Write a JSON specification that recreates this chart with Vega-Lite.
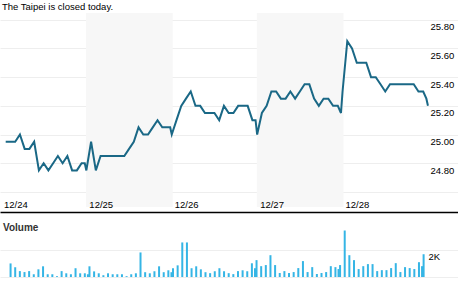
{
  "$schema": "https://vega.github.io/schema/vega-lite/v6.json",
  "padding": {"top": 2, "left": 0, "right": 0, "bottom": 0},
  "background": "white",
  "config": {"view": {"stroke": null}, "font": "Liberation Sans", "concat": {"spacing": 11}},
  "title": {"text": "The Taipei is closed today.", "anchor": "start", "fontSize": 9.5, "fontWeight": "normal", "color": "#000000", "dx": 2, "offset": 1.5, "font": "Liberation Sans"},
  "datasets": {
    "bands": [{"start": 269, "end": 543}, {"start": 809, "end": 1083}],
    "ticks": [
      {"min": 15, "price": 24.95, "vol": 990},
      {"min": 30, "price": 24.95, "vol": 710},
      {"min": 45, "price": 24.95, "vol": 430},
      {"min": 60, "price": 25.00, "vol": 360},
      {"min": 75, "price": 24.90, "vol": 430},
      {"min": 90, "price": 24.90, "vol": 200},
      {"min": 105, "price": 24.95, "vol": 560},
      {"min": 120, "price": 24.75, "vol": 780},
      {"min": 135, "price": 24.80, "vol": 200},
      {"min": 150, "price": 24.75, "vol": 200},
      {"min": 165, "price": 24.80, "vol": 60},
      {"min": 180, "price": 24.85, "vol": 430},
      {"min": 195, "price": 24.80, "vol": 270},
      {"min": 210, "price": 24.85, "vol": 200},
      {"min": 225, "price": 24.75, "vol": 640},
      {"min": 240, "price": 24.75, "vol": 270},
      {"min": 255, "price": 24.80, "vol": 270},
      {"min": 265, "price": 24.80, "vol": 200},
      {"min": 270, "price": 24.75, "vol": 780},
      {"min": 285, "price": 24.95, "vol": 410},
      {"min": 300, "price": 24.75, "vol": 270},
      {"min": 315, "price": 24.85, "vol": 130},
      {"min": 330, "price": 24.85, "vol": 270},
      {"min": 345, "price": 24.85, "vol": 200},
      {"min": 360, "price": 24.85, "vol": 200},
      {"min": 375, "price": 24.85, "vol": 200},
      {"min": 390, "price": 24.85, "vol": 60},
      {"min": 405, "price": 24.90, "vol": 200},
      {"min": 420, "price": 24.95, "vol": 270},
      {"min": 435, "price": 25.05, "vol": 1790},
      {"min": 450, "price": 25.00, "vol": 350},
      {"min": 465, "price": 25.00, "vol": 270},
      {"min": 480, "price": 25.05, "vol": 420},
      {"min": 495, "price": 25.10, "vol": 780},
      {"min": 510, "price": 25.05, "vol": 350},
      {"min": 525, "price": 25.05, "vol": 490},
      {"min": 535, "price": 25.05, "vol": 350},
      {"min": 540, "price": 25.00, "vol": 640},
      {"min": 555, "price": 25.10, "vol": 850},
      {"min": 570, "price": 25.20, "vol": 2520},
      {"min": 585, "price": 25.25, "vol": 2520},
      {"min": 600, "price": 25.30, "vol": 640},
      {"min": 615, "price": 25.20, "vol": 780},
      {"min": 630, "price": 25.20, "vol": 560},
      {"min": 645, "price": 25.15, "vol": 350},
      {"min": 660, "price": 25.15, "vol": 280},
      {"min": 675, "price": 25.15, "vol": 420},
      {"min": 690, "price": 25.10, "vol": 640},
      {"min": 705, "price": 25.20, "vol": 420},
      {"min": 720, "price": 25.15, "vol": 280},
      {"min": 735, "price": 25.15, "vol": 210},
      {"min": 750, "price": 25.20, "vol": 430},
      {"min": 765, "price": 25.20, "vol": 490},
      {"min": 780, "price": 25.20, "vol": 420},
      {"min": 795, "price": 25.10, "vol": 1000},
      {"min": 805, "price": 25.10, "vol": 640},
      {"min": 810, "price": 25.00, "vol": 1230},
      {"min": 825, "price": 25.15, "vol": 790},
      {"min": 840, "price": 25.20, "vol": 870},
      {"min": 855, "price": 25.30, "vol": 1590},
      {"min": 870, "price": 25.30, "vol": 870},
      {"min": 885, "price": 25.25, "vol": 290},
      {"min": 900, "price": 25.25, "vol": 430},
      {"min": 915, "price": 25.30, "vol": 290},
      {"min": 930, "price": 25.25, "vol": 360},
      {"min": 945, "price": 25.30, "vol": 650},
      {"min": 960, "price": 25.35, "vol": 1160},
      {"min": 975, "price": 25.35, "vol": 360},
      {"min": 990, "price": 25.25, "vol": 720},
      {"min": 1005, "price": 25.20, "vol": 220},
      {"min": 1020, "price": 25.25, "vol": 290},
      {"min": 1035, "price": 25.25, "vol": 360},
      {"min": 1050, "price": 25.20, "vol": 790},
      {"min": 1065, "price": 25.20, "vol": 720},
      {"min": 1075, "price": 25.15, "vol": 580},
      {"min": 1080, "price": 25.30, "vol": 870},
      {"min": 1095, "price": 25.65, "vol": 3390},
      {"min": 1110, "price": 25.60, "vol": 1590},
      {"min": 1125, "price": 25.50, "vol": 1230},
      {"min": 1140, "price": 25.50, "vol": 580},
      {"min": 1155, "price": 25.50, "vol": 790},
      {"min": 1170, "price": 25.40, "vol": 940},
      {"min": 1185, "price": 25.40, "vol": 940},
      {"min": 1200, "price": 25.35, "vol": 430},
      {"min": 1215, "price": 25.30, "vol": 500},
      {"min": 1230, "price": 25.35, "vol": 500},
      {"min": 1245, "price": 25.35, "vol": 650},
      {"min": 1260, "price": 25.35, "vol": 1010},
      {"min": 1275, "price": 25.35, "vol": 360},
      {"min": 1290, "price": 25.35, "vol": 720},
      {"min": 1305, "price": 25.35, "vol": 650},
      {"min": 1320, "price": 25.30, "vol": 580},
      {"min": 1335, "price": 25.30, "vol": 1080},
      {"min": 1345, "price": 25.25, "vol": 790},
      {"min": 1350, "price": 25.20, "vol": 1660}
    ]
  },
  "vconcat": [
    {
      "width": 458,
      "height": 194,
      "layer": [
        {
          "data": {"name": "bands"},
          "mark": {"type": "rect", "color": "#f7f7f7"},
          "encoding": {
            "x": {"field": "start", "type": "quantitative", "scale": {"domain": [-3, 1445], "nice": false, "zero": false},
              "axis": {"orient": "bottom", "offset": 5, "zindex": 1, "values": [0, 270, 540, 810, 1080], "labelExpr": "['12/24','12/25','12/26','12/27','12/28'][round(datum.value/270)]", "grid": false, "domain": true, "domainColor": "#000000", "domainWidth": 1.5, "ticks": false, "tickSize": 0, "labelPadding": -4.7, "labelBaseline": "alphabetic", "labelAlign": "left", "labelOffset": 2.5, "labelFontSize": 9.5, "labelFont": "Liberation Sans", "labelColor": "#000000", "labelFlush": false, "labelOverlap": false, "title": null}},
            "x2": {"field": "end"}
          }
        },
        {
          "data": {"name": "ticks"},
          "mark": {"type": "line", "color": "#1a6886", "strokeWidth": 2},
          "encoding": {
            "x": {"field": "min", "type": "quantitative",
              "axis": {"orient": "bottom", "offset": 5, "zindex": 1, "values": [0, 270, 540, 810, 1080], "labelExpr": "['12/24','12/25','12/26','12/27','12/28'][round(datum.value/270)]", "grid": false, "domain": true, "domainColor": "#000000", "domainWidth": 1.5, "ticks": false, "tickSize": 0, "labelPadding": -4.7, "labelBaseline": "alphabetic", "labelAlign": "left", "labelOffset": 2.5, "labelFontSize": 9.5, "labelFont": "Liberation Sans", "labelColor": "#000000", "labelFlush": false, "labelOverlap": false, "title": null}},
            "y": {"field": "price", "type": "quantitative", "scale": {"domain": [24.495, 25.847], "nice": false, "zero": false},
              "axis": {"orient": "right", "offset": -28, "values": [24.6, 24.8, 25.0, 25.2, 25.4, 25.6, 25.8], "format": ".2f", "labelExpr": "datum.value < 24.7 ? '' : datum.label", "grid": true, "gridColor": "#eeeeee", "gridWidth": 1, "domain": false, "ticks": false, "tickSize": 0, "labelPadding": 0, "labelAlign": "left", "labelBaseline": "top", "labelOffset": 2, "labelFontSize": 9.5, "labelFont": "Liberation Sans", "labelColor": "#000000", "labelFlush": false, "labelOverlap": false, "title": null}}
          }
        }
      ]
    },
    {
      "width": 458,
      "height": 48,
      "title": {"text": "Volume", "anchor": "start", "fontSize": 10, "fontWeight": "bold", "color": "#333333", "dx": 3, "offset": -4, "font": "Liberation Sans"},
      "data": {"name": "ticks"},
      "mark": {"type": "bar", "width": 2, "color": "#35b5e5"},
      "encoding": {
        "x": {"field": "min", "type": "quantitative", "scale": {"domain": [-3, 1445], "nice": false, "zero": false}, "axis": null},
        "y": {"field": "vol", "type": "quantitative", "scale": {"domain": [0, 3500], "nice": false},
          "axis": {"orient": "right", "offset": -30, "values": [0, 2000], "labelExpr": "datum.value == 2000 ? '2K' : ''", "grid": true, "gridColor": "#eeeeee", "gridWidth": 1, "domain": false, "ticks": false, "tickSize": 0, "labelPadding": 0, "labelAlign": "left", "labelBaseline": "top", "labelOffset": 2, "labelFontSize": 9.5, "labelFont": "Liberation Sans", "labelColor": "#000000", "labelFlush": false, "labelOverlap": false, "title": null}}
      }
    }
  ]
}
